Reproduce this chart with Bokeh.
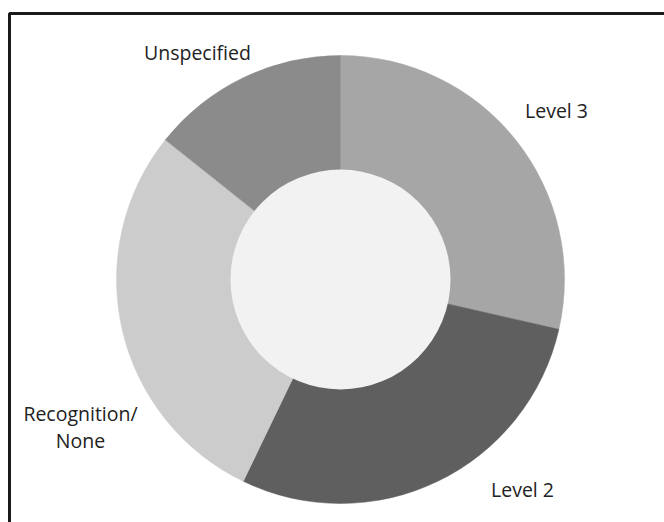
import math
from bokeh.plotting import figure
from bokeh.models import Range1d, ColumnDataSource
from bokeh.core.properties import value
from bokeh.embed import file_html
from bokeh.resources import INLINE

# Data
categories = ["Level 3", "Level 2", "Recognition/\nNone", "Unspecified"]
counts = [2, 2, 2, 1]
colors = ["#a6a6a6", "#5f5f5f", "#cccccc", "#8b8b8b"]

W, H = 664, 522
p = figure(width=W, height=H, output_backend="svg", toolbar_location=None,
           x_range=Range1d(0, W), y_range=Range1d(0, H), min_border=0,
           outline_line_color=None, background_fill_color="white")
p.axis.visible = False
p.grid.visible = False

cx, cy = 340, H - 279
r_out, r_in = 224, 110

total = sum(counts)
starts, ends = [], []
acc = 0
for c in counts:
    starts.append(math.pi / 2 - 2 * math.pi * acc / total)
    acc += c
    ends.append(math.pi / 2 - 2 * math.pi * acc / total)

src = ColumnDataSource(dict(start=starts, end=ends, color=colors))
p.annular_wedge(x=cx, y=cy, inner_radius=r_in - 2, outer_radius=r_out,
                start_angle="start", end_angle="end", direction="clock",
                fill_color="color", line_color="color", line_width=0.5, source=src)
p.circle(x=[cx], y=[cy], radius=r_in, fill_color="#f2f2f2", line_color=None)

# labels
lab_x = [556, 522, 80, 197]
lab_y = [H - 110, H - 489, H - 426, H - 52]
lsrc = ColumnDataSource(dict(x=lab_x, y=lab_y, t=categories))
p.text(x="x", y="y", text="t", source=lsrc, text_align="center",
       text_baseline="middle", text_font=value("Open Sans"),
       text_font_size="19.5px", text_color="#222222", text_line_height=1.0)

# frame border
p.quad(left=[9], right=[W + 20], top=[H - 13], bottom=[-20],
       fill_color=None, line_color="#1a1a1a", line_width=3)

open("out.html", "w").write(file_html(p, INLINE))
